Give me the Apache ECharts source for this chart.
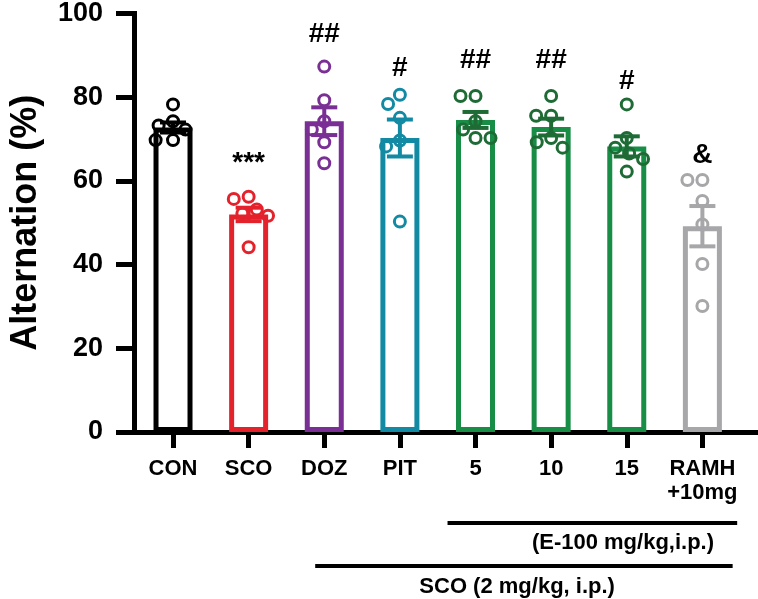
<!DOCTYPE html>
<html>
<head>
<meta charset="utf-8">
<script src="https://cdn.jsdelivr.net/npm/echarts@6.0.0/dist/echarts.min.js"></script>
<style>
  html, body { margin: 0; padding: 0; background: #fff; }
  #chart { width: 758px; height: 599px; }
</style>
</head>
<body>
<div id="chart"></div>
<script>
// groups on the x axis
var groups = ['CON', 'SCO', 'DOZ', 'PIT', '5', '10', '15', 'RAMH\n+10mg'];
// bar heights (mean) and SEM
var means = [72.5, 51.8, 74.0, 70.0, 74.3, 72.6, 68.0, 49.0];
var sems = [1.2, 1.6, 3.3, 4.4, 1.9, 2.0, 2.4, 4.8];
// individual animals
var dots = [
    [78, 74, 73, 72, 69.5, 69.5],
    [56, 55.5, 53, 52, 51.5, 44],
    [87, 79, 74, 72, 69, 64],
    [80.3, 78.1, 74.8, 69.4, 68, 50.1],
    [80, 80, 74, 72, 70, 70],
    [80, 75.3, 75.3, 70, 69, 67.7],
    [78, 70, 67.7, 66.3, 65, 62],
    [60, 60, 55, 49.4, 40, 30]
];
// significance marks and the level they sit at
var marks = ['', '***', '##', '#', '##', '##', '#', '&'];
var markLevel = [null, 64, 94.8, 86.5, 88.4, 88.4, 83.6, 65.8];

var barColors = ['#000000', '#e4222b', '#7a2f95', '#138aa3', '#178d46', '#178d46', '#178d46', '#a7a7aa'];
var dotColors = ['#000000', '#e4222b', '#7a2f95', '#138aa3', '#1f6b36', '#1f6b36', '#1f6b36', '#a7a7aa'];

var FONT = 'Liberation Sans, Arial, sans-serif';

var chart = echarts.init(document.getElementById('chart'), null, { renderer: 'canvas' });

var barData = means.map(function (m, i) {
    return { value: m, itemStyle: { borderColor: barColors[i] } };
});
var dotData = [];
dots.forEach(function (arr, i) {
    arr.forEach(function (v) {
        dotData.push({ value: [i, v], itemStyle: { borderColor: dotColors[i] } });
    });
});
var errData = means.map(function (m, i) { return [i, m, sems[i]]; });
var markData = [];
marks.forEach(function (t, i) {
    if (t) markData.push([i, markLevel[i], t]);
});

chart.setOption({
    animation: false,
    grid: [
        { left: 122, right: 1, top: 12, bottom: 167 },
        { left: 135.2, right: 17.8, top: 12, bottom: 167 }
    ],
    xAxis: [
        {
            gridIndex: 0, type: 'value', min: 0, max: 1,
            axisLine: { show: true, lineStyle: { color: '#000', width: 5, cap: 'square' } },
            axisTick: { show: false }, axisLabel: { show: false }, splitLine: { show: false }
        },
        {
            gridIndex: 1, type: 'category', data: groups,
            jitter: 40, jitterOverlap: false, jitterMargin: 4,
            axisLine: { show: false },
            axisTick: { show: true, alignWithLabel: true, length: 16, lineStyle: { color: '#000', width: 5 } },
            axisLabel: {
                margin: 25, color: '#000', fontFamily: FONT, fontWeight: 'bold',
                fontSize: 22, lineHeight: 24, interval: 0
            }
        }
    ],
    yAxis: [
        {
            gridIndex: 0, type: 'value', min: 0, max: 100, interval: 20,
            name: 'Alternation (%)', nameLocation: 'middle', nameGap: 90, nameRotate: 90,
            nameTextStyle: { color: '#000', fontFamily: FONT, fontWeight: 'bold', fontSize: 36 },
            axisLine: { show: true, lineStyle: { color: '#000', width: 5, cap: 'square' } },
            axisTick: { show: true, length: 18, lineStyle: { color: '#000', width: 5 } },
            axisLabel: { margin: 31, color: '#000', fontFamily: FONT, fontWeight: 'bold', fontSize: 27 },
            splitLine: { show: false }
        },
        {
            gridIndex: 1, type: 'value', min: 0, max: 100, interval: 20, show: false
        }
    ],
    series: [
        {
            type: 'bar', xAxisIndex: 1, yAxisIndex: 1, data: barData,
            barWidth: 39,
            itemStyle: { color: 'rgba(255,255,255,0)', borderWidth: 5 },
            z: 2
        },
        {
            type: 'custom', xAxisIndex: 1, yAxisIndex: 1, data: errData,
            encode: { x: 0, y: 1 }, clip: false, z: 3,
            renderItem: function (params, api) {
                var i = api.value(0), m = api.value(1), s = api.value(2);
                var top = api.coord([i, m + s]);
                var bot = api.coord([i, m - s]);
                var half = 13;
                var st = { stroke: dotColors[i], lineWidth: 4 };
                return {
                    type: 'group',
                    children: [
                        { type: 'line', shape: { x1: top[0], y1: top[1], x2: bot[0], y2: bot[1] }, style: st },
                        { type: 'line', shape: { x1: top[0] - half, y1: top[1], x2: top[0] + half, y2: top[1] }, style: st },
                        { type: 'line', shape: { x1: bot[0] - half, y1: bot[1], x2: bot[0] + half, y2: bot[1] }, style: st }
                    ]
                };
            }
        },
        {
            type: 'scatter', xAxisIndex: 1, yAxisIndex: 1, data: dotData,
            symbol: 'circle', symbolSize: 11, z: 4,
            itemStyle: { color: 'rgba(255,255,255,0)', borderWidth: 3, opacity: 1 }
        },
        {
            type: 'custom', xAxisIndex: 1, yAxisIndex: 1, data: markData,
            encode: { x: 0, y: 1 }, clip: false, z: 5,
            renderItem: function (params, api) {
                var p = api.coord([api.value(0), api.value(1)]);
                return {
                    type: 'text',
                    style: {
                        text: markData[params.dataIndex][2],
                        x: p[0], y: p[1],
                        fill: '#000', font: 'bold 28px ' + FONT,
                        textAlign: 'center', textVerticalAlign: 'middle'
                    }
                };
            }
        }
    ]
});

// treatment brackets under the axis (category units, interpolated between band centres)
var baseY = chart.convertToPixel({ yAxisIndex: 1 }, 0);
var c0 = chart.convertToPixel({ xAxisIndex: 1 }, 0);
var c1 = chart.convertToPixel({ xAxisIndex: 1 }, 1);
function px(c) { return c0 + c * (c1 - c0); }
var bracketFont = 'bold 22px ' + FONT;
chart.setOption({
    graphic: [
        { type: 'line', shape: { x1: px(3.63), y1: baseY + 91, x2: px(7.46), y2: baseY + 91 }, style: { stroke: '#000', lineWidth: 4 } },
        { type: 'text', x: px(5.95), y: baseY + 111, style: { text: '(E-100 mg/kg,i.p.)', font: bracketFont, fill: '#000', textAlign: 'center', textVerticalAlign: 'middle' } },
        { type: 'line', shape: { x1: px(1.88), y1: baseY + 134, x2: px(7.40), y2: baseY + 134 }, style: { stroke: '#000', lineWidth: 4 } },
        { type: 'text', x: px(4.55), y: baseY + 155, style: { text: 'SCO (2 mg/kg, i.p.)', font: bracketFont, fill: '#000', textAlign: 'center', textVerticalAlign: 'middle' } }
    ]
});
</script>
</body>
</html>
